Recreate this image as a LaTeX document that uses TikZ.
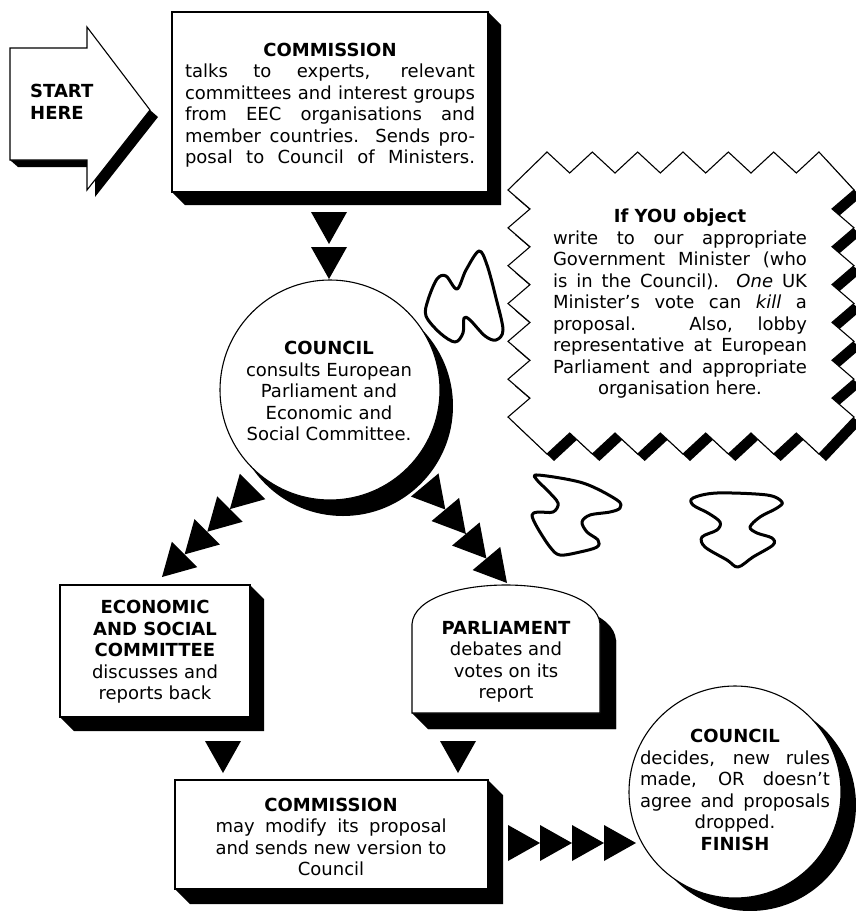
\documentclass[tikz,border=0pt]{standalone}
\usepackage{fontspec}
\setmainfont{DejaVu Sans}
\newlength\LW
\newcommand\jl[1]{\makebox[\LW][s]{#1}}
\tikzset{
  txt/.style={font=\fontsize{18}{21.5}\selectfont, align=center, inner sep=0pt},
  box/.style={draw=black, fill=white, line width=1.1pt},
  tri/.pic={\fill[black] (0,0) -- (-32,-18) -- (-32,18) -- cycle;},
  squig/.style={draw=black, line width=3pt, line join=round},
  zigshape/.pic={
    \path[pic actions] (508,190) -- (547,152)
      \foreach \k in {0,...,5} { -- ({569.67+45.33*\k},173) -- ({592.33+45.33*\k},152) }
      -- (854,190)
      \foreach \k in {0,...,5} { -- (832,{208.9+37.83*\k}) -- (854,{227.83+37.83*\k}) }
      -- (819,454)
      \foreach \k in {0,...,5} { -- ({796.33-45.33*\k},433) -- ({773.67-45.33*\k},454) }
      -- (508,417)
      \foreach \k in {0,...,5} { -- (530,{398.1-37.83*\k}) -- (508,{379.2-37.83*\k}) }
      -- cycle;
  }
}
\begin{document}
\begin{tikzpicture}[x=1pt,y=-1pt]
\useasboundingbox[fill=white] (0,0) rectangle (856,911);

% START arrow
\fill (10,160) -- (18,167) -- (95,167) -- (95,197) -- (158,117) -- (150,110) -- (87,190) -- (87,160) -- cycle;
\draw[box] (10,48) -- (87,48) -- (87,27) -- (150,110) -- (87,190) -- (87,160) -- (10,160) -- cycle;
\node[txt, anchor=west, align=left, font=\fontsize{18}{21.5}\selectfont\bfseries] (start) at (30,102) {START\\HERE};

% COMMISSION (top)
\fill (172,192) -- (185,205) -- (501,205) -- (501,25) -- (488,12) -- (488,192) -- cycle;
\draw[box] (172,12) rectangle (488,192);
\setlength\LW{290pt}
\node[txt] (comm1) at (330,105) {\textbf{COMMISSION}\\
\jl{talks to experts, relevant}\\
\jl{committees and interest groups}\\
\jl{from EEC organisations and}\\
\jl{member countries. Sends pro-}\\
\jl{posal to Council of Ministers.}};

% COUNCIL circle
\fill (343,406) circle (110);
\draw[box] (330,390) circle (110);
\node[txt] (council1) at (329,391) {\textbf{COUNCIL}\\
consults European\\
Parliament and\\
Economic and\\
Social Committee.};

% arrows commission -> council
\coordinate (a1) at (329,244);
\coordinate (a2) at (329,279);
\pic[rotate=-90] at (a1) {tri};
\pic[rotate=-90] at (a2) {tri};

% zigzag box
\pic[fill=black, shift={(7,7)}] at (0,0) {zigshape};
\pic[fill=white, draw=black, line width=1.1pt] at (0,0) {zigshape};
\setlength\LW{254pt}
\node[txt] (object) at (680,304) {\textbf{If YOU object}\\
\jl{write to our appropriate}\\
\jl{Government Minister (who}\\
\jl{is in the Council). \textit{One} UK}\\
\jl{Minister's vote can \textit{kill} a}\\
\jl{proposal. Also, lobby}\\
\jl{representative at European}\\
\jl{Parliament and appropriate}\\
organisation here.};

% squiggles
\draw[squig] plot[smooth cycle, tension=0.55] coordinates {(437,279) (446,276) (457,289) (466,270) (479,251) (487,265) (496,298) (503,330) (496,340) (485,336) (470,320) (464,318) (463,333) (455,342) (440,333) (426,316) (428,300)};
\draw[squig] plot[smooth cycle, tension=0.55] coordinates {(538,475) (583,483) (617,500) (620,508) (610,512) (590,515) (582,522) (587,532) (598,540) (597,547) (580,552) (560,555) (550,547) (537,527) (532,515) (538,512) (553,512) (558,503) (547,490) (537,480)};
\draw[squig] plot[smooth cycle, tension=0.55] coordinates {(693,498) (717,493) (767,495) (782,502) (777,508) (760,517) (750,527) (757,533) (772,538) (773,545) (753,557) (738,567) (727,560) (705,547) (702,537) (717,530) (720,522) (708,513) (693,505)};

% ECS box
\fill (60,717) -- (74,731) -- (264,731) -- (264,599) -- (250,585) -- (250,717) -- cycle;
\draw[box] (60,585) rectangle (250,717);
\node[txt] (ecs) at (155,652) {\textbf{ECONOMIC}\\
\textbf{AND SOCIAL}\\
\textbf{COMMITTEE}\\
discusses and\\
reports back};

% PARLIAMENT box
\fill[shift={(16,16)}] (412,713) -- (412,624) .. controls (416,572) and (596,572) .. (600,624) -- (600,713) -- cycle;
\fill (412,713) -- (428,729) -- (616,729) -- (616,640) -- (600,624) -- (600,713) -- cycle;
\draw[box] (412,713) -- (412,624) .. controls (416,572) and (596,572) .. (600,624) -- (600,713) -- cycle;
\node[txt] (parl) at (506,662) {\textbf{PARLIAMENT}\\
debates and\\
votes on its\\
report};

% arrows council -> ECS (down-left)
\foreach \x/\y in {229.9/509.1, 207.3/531.7, 184.6/554.4, 162/577}
  \pic[rotate=-135] at (\x,\y) {tri};
% arrows council -> parliament (down-right)
\foreach \x/\y in {445.3/509.5, 465.9/534, 486.4/558.5, 507/583}
  \pic[rotate=-50] at (\x,\y) {tri};

% arrows to bottom commission
\pic[rotate=-90] at (223,773) {tri};
\pic[rotate=-90] at (458,773) {tri};

% COMMISSION (bottom)
\fill (175,889) -- (190,904) -- (503,904) -- (503,795) -- (488,780) -- (488,889) -- cycle;
\draw[box] (175,780) rectangle (488,889);
\setlength\LW{231pt}
\node[txt] (comm2) at (331,837) {\textbf{COMMISSION}\\
\jl{may modify its proposal}\\
\jl{and sends new version to}\\
Council};

% final COUNCIL
\fill (750,805) circle (106);
\draw[box] (735,792) circle (106);
\setlength\LW{190pt}
\node[txt] (council2) at (735,790) {\textbf{COUNCIL}\\
\jl{decides, new rules}\\
\jl{made, OR doesn't}\\
\jl{agree and proposals}\\
dropped.\\
\textbf{FINISH}};

% arrows to final council
\foreach \x in {540,572,604,636}
  \pic at (\x,843) {tri};
\end{tikzpicture}
\end{document}
